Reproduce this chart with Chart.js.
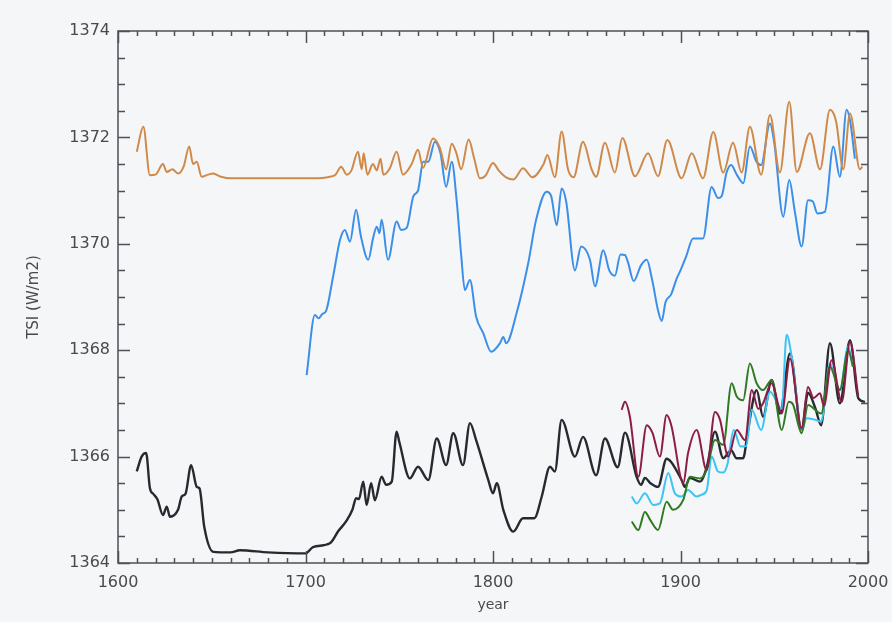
<!DOCTYPE html>
<html>
<head>
<meta charset="utf-8">
<script src="https://cdn.jsdelivr.net/npm/chart.js@4"></script>
<style>
 body{margin:0;background:#f4f6f8;}
 #wrap{width:892px;height:622px;}
</style>
</head>
<body>
<div id="wrap"><canvas id="c" width="892" height="622"></canvas></div>
<script>
// orange reconstruction, 1610-1997
const orangeYears=[1610,1613.5,1617,1620,1624,1626,1629,1632,1635,1638,1640,1642,1644.6,1648,1650.7,1655,1660,1680,1700,1704,1713,1716,1719,1722,1724.5,1728,1730,1731,1733,1736,1738,1740,1741.5,1745,1748.6,1752,1756.6,1760,1762.7,1768,1771.7,1775,1778,1780.5,1783,1787,1790,1793,1796,1800,1803,1807,1811,1816,1821,1827,1829,1833,1836.6,1840,1843,1848,1852.6,1855,1859.7,1865,1869,1875.7,1882.7,1888,1893,1900.6,1906,1912,1917.5,1922.8,1928,1932.6,1937,1943,1947.7,1953,1958,1962,1969,1974.4,1979.7,1983,1986.8,1990.4,1995.7,1997];
const orangeTSI=[1371.73,1372.2,1371.29,1371.3,1371.5,1371.35,1371.4,1371.32,1371.45,1371.83,1371.5,1371.54,1371.26,1371.3,1371.32,1371.26,1371.23,1371.23,1371.23,1371.23,1371.26,1371.3,1371.45,1371.3,1371.38,1371.73,1371.4,1371.7,1371.3,1371.5,1371.38,1371.6,1371.3,1371.42,1371.73,1371.3,1371.5,1371.77,1371.43,1371.98,1371.8,1371.4,1371.88,1371.7,1371.4,1371.96,1371.6,1371.23,1371.28,1371.52,1371.38,1371.25,1371.21,1371.42,1371.25,1371.5,1371.67,1371.25,1372.11,1371.4,1371.25,1371.92,1371.4,1371.26,1371.9,1371.34,1371.99,1371.27,1371.7,1371.27,1371.95,1371.23,1371.7,1371.23,1372.1,1371.34,1371.9,1371.34,1372.2,1371.3,1372.42,1371.34,1372.67,1371.35,1372.08,1371.4,1372.52,1372.3,1371.4,1372.45,1371.4,1371.45];

// blue reconstruction, 1700-1993
const blueYears=[1700.6,1705,1707,1709,1711,1714.7,1718.4,1721,1723.7,1727,1729.5,1733.5,1736,1738,1739.5,1740.6,1744,1748.6,1751,1754,1757.5,1760,1762.8,1765.5,1769,1772,1775,1778,1780.6,1783,1785,1787.7,1791,1794.8,1799,1803.7,1805.5,1807,1812.6,1818.8,1823,1828.6,1831,1834,1836.6,1839,1843.7,1847,1851.7,1854.4,1858.8,1862,1865,1868,1870.4,1872,1875,1879,1882,1885,1888,1890,1892,1895,1898,1900,1903,1906.7,1912,1916.6,1920,1922,1924.5,1927,1930,1933.5,1937,1940.6,1943,1947.7,1950,1954.8,1958,1961,1964.6,1968,1970.5,1973,1977,1981.5,1985,1988.6,1990.5,1993];
const blueTSI=[1367.53,1368.66,1368.6,1368.68,1368.74,1369.38,1370.07,1370.26,1370.04,1370.64,1370.15,1369.7,1370.1,1370.32,1370.2,1370.45,1369.7,1370.42,1370.26,1370.3,1370.89,1371.0,1371.54,1371.54,1371.92,1371.7,1371.07,1371.54,1370.82,1369.8,1369.13,1369.32,1368.63,1368.32,1367.97,1368.13,1368.25,1368.13,1368.7,1369.64,1370.45,1370.98,1370.9,1370.35,1371.04,1370.8,1369.5,1369.95,1369.7,1369.2,1369.88,1369.5,1369.4,1369.8,1369.79,1369.65,1369.3,1369.6,1369.7,1369.3,1368.75,1368.55,1368.9,1369.05,1369.35,1369.5,1369.76,1370.1,1370.1,1371.07,1370.86,1370.9,1371.33,1371.48,1371.3,1371.14,1371.83,1371.54,1371.48,1372.26,1371.9,1370.51,1371.2,1370.6,1369.95,1370.82,1370.8,1370.57,1370.6,1371.83,1371.26,1372.52,1372.3,1371.6];

// black reconstruction, 1610-1998
const blackYears=[1610,1612.6,1615,1617,1618.8,1621,1624,1626,1627.7,1632,1634,1636,1639,1642,1643.5,1646,1650.8,1660,1665,1680,1700,1704,1713,1717.5,1722,1725,1727,1728.5,1730.8,1732.6,1735,1737,1740.6,1743,1746,1748.6,1750,1755.7,1760,1765.5,1770,1775,1778.8,1784,1787.7,1791,1797.5,1800,1802,1805.5,1810.8,1816,1822,1826,1830.4,1833,1836.6,1843.7,1848,1855,1859.7,1866.5,1870.4,1876.6,1879,1881,1884,1888,1892.6,1895,1900.6,1902.4,1905,1910.4,1914,1918.4,1922.8,1927,1929.9,1933.4,1936,1940.6,1944,1948.6,1953,1958.4,1964.6,1968,1972,1975,1979.7,1985,1990.4,1994.8,1998.4];
const blackTSI=[1365.72,1366.0,1366.07,1365.41,1365.3,1365.2,1364.9,1365.06,1364.87,1365.0,1365.25,1365.3,1365.84,1365.43,1365.4,1364.68,1364.21,1364.2,1364.24,1364.2,1364.18,1364.3,1364.37,1364.6,1364.8,1365.0,1365.22,1365.2,1365.53,1365.09,1365.5,1365.18,1365.62,1365.47,1365.53,1366.47,1366.28,1365.59,1365.81,1365.56,1366.34,1365.84,1366.44,1365.84,1366.63,1366.31,1365.56,1365.31,1365.5,1365.0,1364.59,1364.84,1364.84,1365.25,1365.81,1365.72,1366.69,1366.0,1366.37,1365.65,1366.34,1365.8,1366.45,1365.62,1365.47,1365.6,1365.5,1365.43,1365.96,1365.9,1365.56,1365.43,1365.6,1365.53,1365.8,1366.47,1365.97,1366.12,1365.97,1365.97,1366.5,1367.25,1366.75,1367.44,1366.81,1367.94,1366.5,1367.2,1366.9,1366.59,1368.13,1367.0,1368.19,1367.1,1367.03];

// maroon, 1868-1995
const maroonYears=[1868.6,1870.4,1873,1877.5,1882,1885,1889,1892.6,1895,1901.5,1904,1908.6,1913.9,1918.4,1921,1925.5,1930,1934.4,1938,1941.5,1944,1948.6,1954,1958.4,1964.6,1968,1971,1974.4,1976.5,1980.6,1986,1990.4,1994.8];
const maroonTSI=[1366.88,1367.03,1366.75,1365.62,1366.59,1366.45,1366.0,1366.78,1366.6,1365.5,1366.06,1366.5,1365.75,1366.84,1366.7,1366.0,1366.5,1366.31,1367.25,1366.9,1367.0,1367.38,1366.81,1367.84,1366.53,1367.31,1367.1,1367.19,1366.95,1367.81,1367.03,1368.16,1367.13];

// cyan, 1874-1992
const cyanYears=[1874,1876.6,1881,1885.5,1889,1893.5,1897,1900.6,1904,1908.6,1911,1914,1916.6,1920,1922.8,1925,1928.4,1932,1935,1938,1943,1947.7,1954,1956.6,1959.3,1964.6,1967.3,1971,1975,1979.7,1985,1989.4,1992];
const cyanTSI=[1365.25,1365.12,1365.31,1365.09,1365.12,1365.69,1365.31,1365.25,1365.37,1365.25,1365.28,1365.37,1366.0,1365.72,1365.7,1365.85,1366.5,1366.19,1366.2,1366.88,1366.5,1367.22,1366.9,1368.29,1367.88,1366.5,1366.72,1366.7,1366.66,1367.75,1367.25,1368.07,1367.69];

// green, 1874-1992
const greenYears=[1874,1877.5,1881,1884,1888,1892.6,1896,1901.5,1905,1910.4,1914,1918.4,1922.8,1927.3,1930,1933.4,1937,1940.6,1944,1948.6,1954,1957.7,1960,1964.6,1968,1975,1979.7,1985,1989.4,1992];
const greenTSI=[1364.78,1364.62,1364.96,1364.8,1364.62,1365.15,1365.0,1365.19,1365.62,1365.59,1365.75,1366.31,1366.22,1367.38,1367.13,1367.06,1367.75,1367.38,1367.25,1367.44,1366.5,1367.03,1366.98,1366.44,1366.97,1366.81,1367.69,1367.25,1368.0,1367.69];

const xMin=1600,xMax=2000,yMin=1364,yMax=1374;
const axisColor="#4b5159";
const textColor="#4a4a4a";

function pts(xs,ys){return xs.map((x,i)=>({x:x,y:ys[i]}));}

// IDL style box with inward ticks
const boxTicks={
 id:"boxTicks",
 afterDraw(chart){
  const {ctx,chartArea:{left,right,top,bottom},scales:{x,y}}=chart;
  ctx.save();
  ctx.strokeStyle=axisColor;
  ctx.lineWidth=1.5;
  ctx.strokeRect(left,top,right-left,bottom-top);
  ctx.beginPath();
  for(let yr=xMin;yr<=xMax;yr+=10){
   const px=Math.round(x.getPixelForValue(yr))+0.5;
   const len=yr%100===0?12:5;
   ctx.moveTo(px,bottom);ctx.lineTo(px,bottom-len);
   ctx.moveTo(px,top);ctx.lineTo(px,top+len);
  }
  for(let v=yMin;v<=yMax;v+=0.5){
   const py=Math.round(y.getPixelForValue(v))+0.5;
   const len=v%2===0?12:7;
   ctx.moveTo(left,py);ctx.lineTo(left+len,py);
   ctx.moveTo(right,py);ctx.lineTo(right-len,py);
  }
  ctx.stroke();
  ctx.restore();
 }
};

function ds(data,color,w){
 return {data:data,borderColor:color,borderWidth:w||2,pointRadius:0,fill:false,cubicInterpolationMode:"monotone"};
}

new Chart(document.getElementById("c"),{
 type:"line",
 data:{datasets:[
  ds(pts(orangeYears,orangeTSI),"#cf8a4a"),
  ds(pts(blueYears,blueTSI),"#3c8fe8"),
  ds(pts(maroonYears,maroonTSI),"#8c1d45"),
  ds(pts(greenYears,greenTSI),"#2f7a22"),
  ds(pts(cyanYears,cyanTSI),"#3cc4f2"),
  ds(pts(blackYears,blackTSI),"#262a30",2.4)
 ]},
 options:{
  responsive:false,
  animation:false,
  layout:{padding:{top:31,right:24,left:0,bottom:0}},
  plugins:{legend:{display:false},tooltip:{enabled:false}},
  scales:{
   x:{
    type:"linear",min:xMin,max:xMax,
    grid:{display:false,drawTicks:false},
    border:{display:false},
    ticks:{stepSize:100,padding:10,color:textColor,autoSkip:false,maxRotation:0,
     font:{family:"DejaVu Sans",size:16},callback:v=>String(v)},
    title:{display:true,text:"year",color:textColor,font:{family:"DejaVu Sans",size:14},padding:{top:0,bottom:8}},
    afterFit(s){s.height=59;s.paddingLeft=0;s.paddingRight=0;}
   },
   y:{
    min:yMin,max:yMax,
    grid:{display:false,drawTicks:false},
    border:{display:false},
    ticks:{stepSize:2,padding:8,color:textColor,autoSkip:false,
     font:{family:"DejaVu Sans",size:16},callback:v=>String(v)},
    title:{display:true,text:"TSI (W/m2)",color:textColor,font:{family:"DejaVu Sans",size:15},padding:{top:25,bottom:0}},
    afterFit(s){s.width=118;}
   }
  }
 },
 plugins:[boxTicks]
});
</script>
</body>
</html>
